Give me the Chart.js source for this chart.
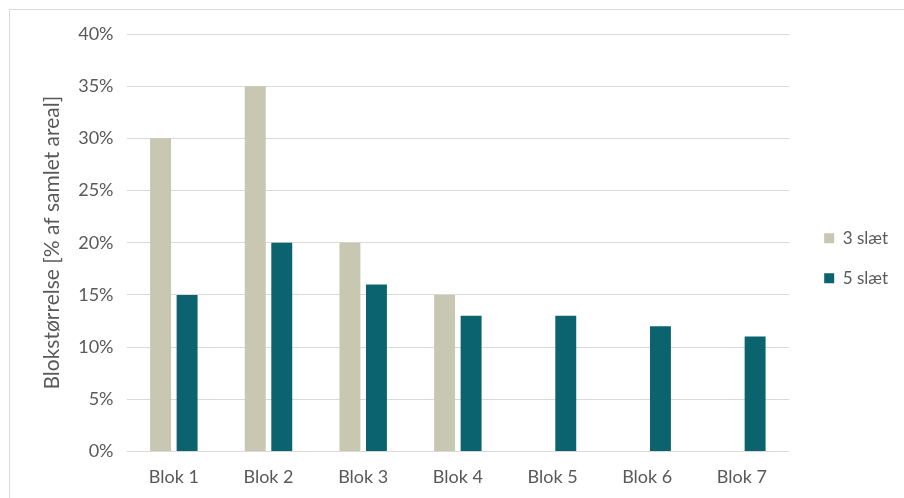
<!DOCTYPE html>
<html>
<head>
<meta charset="utf-8">
<script src="https://cdn.jsdelivr.net/npm/chart.js@4"></script>
<style>
  body { margin: 0; background: #fff; overflow: hidden; }
  #frame { position: absolute; left: 9px; top: 9px; width: 1000px; height: 1000px; border: 1px solid #d9d9d9; }
  #wrap { position: absolute; left: 0; top: 0; width: 904px; height: 498px; }
</style>
</head>
<body>
<div id="frame"></div>
<div id="wrap"><canvas id="chart"></canvas></div>
<script>
// ----------------- DATA -----------------

const blocks = ['Blok 1', 'Blok 2', 'Blok 3', 'Blok 4', 'Blok 5', 'Blok 6', 'Blok 7'];
const treSlaet = [30, 35, 20, 15, null, null, null];
const femSlaet = [15, 20, 16, 13, 13, 12, 11];
const yTitle = 'Blokstørrelse [% af samlet areal]';

const textColor = '#595959';
const gridColor = '#d9d9d9';

// ----------------- CHART -----------------

const ctx = document.getElementById('chart').getContext('2d');
const chart = new Chart(ctx, {
    type: 'bar',
    data: {
        labels: blocks,
        datasets: [{
            label: '3 slæt',
            data: treSlaet,
            backgroundColor: '#c8c7b1',
            categoryPercentage: 0.56,
            barPercentage: 0.79
        }, {
            label: '5 slæt',
            data: femSlaet,
            backgroundColor: '#0b6370',
            categoryPercentage: 0.56,
            barPercentage: 0.79
        }]
    },
    options: {
        responsive: true,
        maintainAspectRatio: false,
        animation: false,
        layout: {
            padding: { left: 40, top: 34, right: 6, bottom: -5 }
        },
        plugins: {
            tooltip: { enabled: false },
            legend: {
                position: 'right',
                fullSize: false,
                // empty title only pushes the items a bit down
                title: {
                    display: true,
                    text: '',
                    font: { size: 10 },
                    padding: { top: 19, bottom: 0 }
                },
                labels: {
                    color: textColor,
                    font: { family: 'Lato', size: 17 },
                    boxWidth: 10,
                    boxHeight: 10,
                    padding: 23
                }
            }
        },
        scales: {
            x: {
                grid: { display: false, drawTicks: false },
                border: { display: false },
                ticks: {
                    color: textColor,
                    font: { family: 'Lato', size: 18 },
                    padding: 15
                }
            },
            y: {
                min: 0,
                max: 40,
                grid: { color: gridColor, drawTicks: false },
                border: { display: false },
                ticks: {
                    stepSize: 5,
                    color: textColor,
                    font: { family: 'Lato', size: 18 },
                    padding: 13,
                    callback: v => v + '%'
                },
                title: {
                    display: true,
                    text: yTitle,
                    color: textColor,
                    font: { family: 'Lato', size: 21 },
                    padding: 0
                }
            },
            // empty axis, only keeps a gap between plot and legend
            gap: {
                type: 'linear',
                position: 'right',
                grid: { display: false },
                border: { display: false },
                ticks: { display: false },
                afterFit: scale => { scale.width = 12; }
            }
        }
    }
});
</script>
</body>
</html>
